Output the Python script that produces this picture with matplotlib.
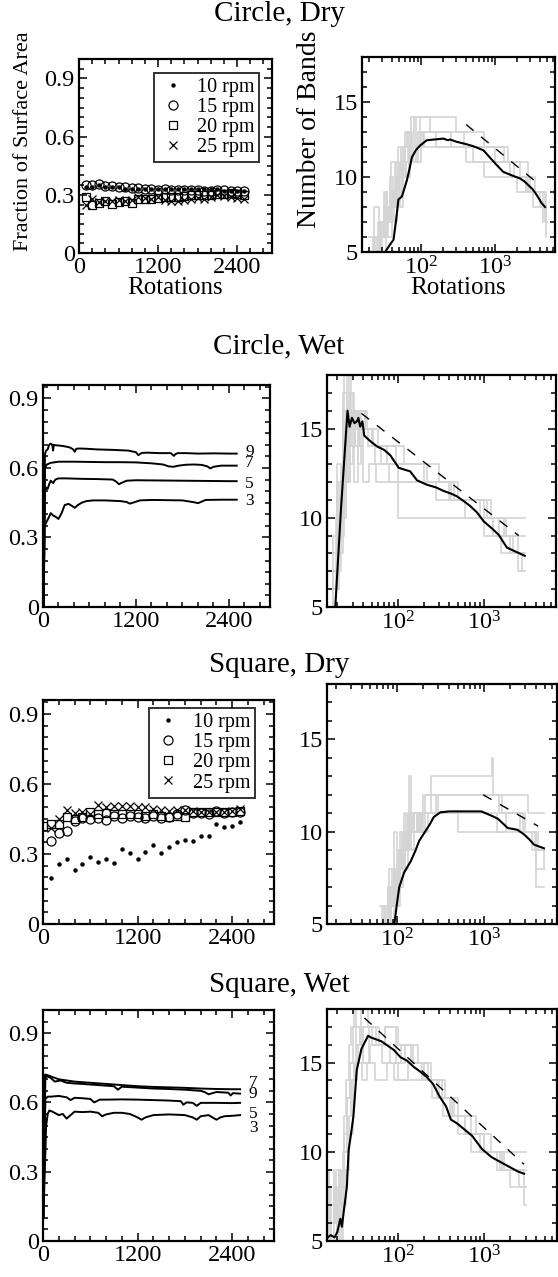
import matplotlib
matplotlib.use("Agg")
import matplotlib.pyplot as plt
from matplotlib.ticker import MultipleLocator, LogLocator, FixedLocator, FixedFormatter, NullFormatter

plt.rcParams['font.family'] = ['Liberation Serif', 'DejaVu Serif']
plt.rcParams['mathtext.fontset'] = 'custom'
plt.rcParams['mathtext.rm'] = 'Liberation Serif'

# ---------------- data ----------------
titles = ["Circle, Dry", "Circle, Wet", "Square, Dry", "Square, Wet"]
rpm_labels = ["10 rpm", "15 rpm", "20 rpm", "25 rpm"]

rot_pts = [100, 200, 300, 400, 500, 600, 700, 800, 900, 1000, 1100, 1200, 1300,
           1400, 1500, 1600, 1700, 1800, 1900, 2000, 2100, 2200, 2300, 2400, 2500]
rot_pts0 = [0] + rot_pts

# Circle, Dry : fraction of surface area
cd_10 = [0.34, 0.34, 0.35, 0.34, 0.34, 0.34, 0.33, 0.33, 0.33, 0.33, 0.33, 0.33, 0.33,
         0.33, 0.33, 0.33, 0.33, 0.33, 0.33, 0.33, 0.33, 0.32, 0.32, 0.32, 0.32]
cd_15 = [0.35, 0.35, 0.355, 0.345, 0.345, 0.34, 0.34, 0.335, 0.335, 0.33, 0.33, 0.325, 0.33,
         0.325, 0.325, 0.325, 0.325, 0.325, 0.32, 0.32, 0.325, 0.325, 0.32, 0.32, 0.32]
cd_20 = [0.29, 0.245, 0.26, 0.27, 0.255, 0.265, 0.27, 0.26, 0.28, 0.28, 0.28, 0.285, 0.29,
         0.29, 0.29, 0.295, 0.30, 0.30, 0.30, 0.30, 0.305, 0.305, 0.31, 0.305, 0.30]
cd_25 = [0.25, 0.28, 0.265, 0.27, 0.27, 0.275, 0.27, 0.275, 0.29, 0.285, 0.28, 0.29, 0.275,
         0.27, 0.27, 0.275, 0.28, 0.285, 0.28, 0.29, 0.30, 0.295, 0.29, 0.285, 0.28]

# Square, Dry : fraction of surface area
sd_10 = [0.196, 0.257, 0.277, 0.232, 0.257, 0.286, 0.267, 0.277, 0.263, 0.321, 0.303, 0.277, 0.31,
         0.339, 0.306, 0.331, 0.353, 0.36, 0.356, 0.378, 0.378, 0.428, 0.414, 0.421, 0.438]
sd_15 = [0.355, 0.39, 0.40, 0.44, 0.455, 0.45, 0.455, 0.445, 0.465, 0.455, 0.465, 0.46, 0.455,
         0.465, 0.455, 0.46, 0.47, 0.49, 0.475, 0.475, 0.47, 0.485, 0.475, 0.48, 0.48]
sd_20 = [0.42, 0.43, 0.43, 0.46, 0.45, 0.46, 0.48, 0.47, 0.475, 0.47, 0.47, 0.47, 0.47, 0.465,
         0.47, 0.465, 0.46, 0.465, 0.46, 0.48, 0.48, 0.48, 0.48, 0.48, 0.48, 0.485]
sd_25 = [0.41, 0.45, 0.49, 0.475, 0.48, 0.47, 0.51, 0.50, 0.505, 0.505, 0.505, 0.50, 0.50,
         0.495, 0.49, 0.485, 0.49, 0.49, 0.485, 0.48, 0.48, 0.48, 0.48, 0.485, 0.495]

# Circle, Wet : fraction lines (labelled 9, 7, 5, 3)
cw9_x = [8, 25, 40, 60, 80, 100, 120, 130, 140, 160, 200, 250, 300, 350, 390, 410, 430, 470, 550,
         700, 900, 1100, 1200, 1230, 1250, 1280, 1350, 1500, 1650, 1690, 1710, 1740, 1850, 2000,
         2200, 2400, 2500]
cw9_y = [0.0, 0.66, 0.675, 0.68, 0.70, 0.705, 0.70, 0.675, 0.70, 0.698, 0.697, 0.695, 0.692,
         0.688, 0.68, 0.67, 0.683, 0.684, 0.683, 0.68, 0.678, 0.675, 0.668, 0.655, 0.66, 0.665,
         0.666, 0.664, 0.664, 0.652, 0.66, 0.664, 0.664, 0.662, 0.663, 0.662, 0.662]
cw7_x = [8, 25, 50, 100, 200, 400, 600, 800, 1000, 1200, 1400, 1550, 1620, 1680, 1750, 1850,
         1950, 2050, 2120, 2160, 2200, 2300, 2400, 2500]
cw7_y = [0.0, 0.60, 0.615, 0.622, 0.627, 0.627, 0.626, 0.625, 0.625, 0.624, 0.62, 0.615, 0.607,
         0.605, 0.61, 0.614, 0.615, 0.613, 0.607, 0.598, 0.605, 0.61, 0.61, 0.61]
cw5_x = [8, 25, 45, 60, 80, 100, 130, 160, 200, 300, 500, 700, 900, 950, 980, 1010, 1080, 1200,
         1500, 1800, 2100, 2400, 2500]
cw5_y = [0.0, 0.50, 0.515, 0.51, 0.53, 0.545, 0.535, 0.55, 0.555, 0.555, 0.553, 0.552, 0.55,
         0.54, 0.53, 0.535, 0.545, 0.547, 0.546, 0.545, 0.544, 0.543, 0.543]
cw3_x = [8, 20, 50, 80, 100, 130, 160, 200, 240, 280, 330, 380, 410, 450, 500, 560, 650, 800,
         1000, 1080, 1120, 1160, 1250, 1400, 1600, 1800, 1950, 2000, 2050, 2100, 2300, 2500]
cw3_y = [0.0, 0.35, 0.37, 0.39, 0.405, 0.395, 0.39, 0.38, 0.405, 0.44, 0.445, 0.435, 0.428,
         0.44, 0.45, 0.457, 0.46, 0.46, 0.457, 0.453, 0.446, 0.45, 0.46, 0.462, 0.461, 0.46,
         0.452, 0.448, 0.455, 0.462, 0.463, 0.463]
cw_label_groups = ["9\n7", "5\n3"]
cw_label_y = [0.647, 0.494]
cw_label_ls = [0.58, 1.07]

# Square, Wet : fraction lines (labelled 7, 9, 5, 3)
sw7_x = [5, 25, 40, 80, 120, 200, 300, 400, 600, 800, 1000, 1200, 1400, 1600, 1800, 2000,
         2200, 2400, 2500]
sw7_y = [0.1, 0.72, 0.72, 0.715, 0.71, 0.70, 0.695, 0.69, 0.685, 0.68, 0.675, 0.67, 0.667,
         0.665, 0.663, 0.66, 0.658, 0.657, 0.657]
sw9_x = [5, 30, 60, 100, 150, 220, 300, 400, 500, 700, 900, 950, 1000, 1200, 1400, 1600, 1800,
         2000, 2050, 2100, 2200, 2350, 2380, 2410, 2500]
sw9_y = [0.1, 0.71, 0.712, 0.705, 0.69, 0.695, 0.685, 0.682, 0.68, 0.675, 0.67, 0.655, 0.668,
         0.664, 0.66, 0.658, 0.655, 0.65, 0.645, 0.635, 0.645, 0.642, 0.63, 0.64, 0.638]
sw5_x = [5, 30, 60, 100, 200, 300, 350, 400, 500, 600, 650, 680, 720, 800, 1000, 1200, 1400,
         1600, 1750, 1780, 1820, 1900, 1950, 2000, 2200, 2400, 2500]
sw5_y = [0.1, 0.615, 0.625, 0.625, 0.628, 0.622, 0.61, 0.62, 0.618, 0.615, 0.60, 0.605, 0.612,
         0.612, 0.613, 0.612, 0.61, 0.608, 0.605, 0.59, 0.60, 0.598, 0.585, 0.598, 0.598, 0.597,
         0.598]
sw3_x = [5, 40, 60, 80, 120, 200, 250, 300, 350, 400, 500, 600, 700, 750, 800, 900, 1000,
         1100, 1200, 1250, 1300, 1400, 1600, 1800, 1900, 1950, 2000, 2100, 2150, 2200, 2250,
         2300, 2400, 2500]
sw3_y = [0.1, 0.50, 0.55, 0.565, 0.56, 0.545, 0.55, 0.53, 0.545, 0.56, 0.558, 0.56, 0.555,
         0.54, 0.548, 0.555, 0.555, 0.55, 0.535, 0.525, 0.535, 0.545, 0.548, 0.545, 0.535,
         0.525, 0.54, 0.545, 0.535, 0.525, 0.535, 0.54, 0.542, 0.545]
sw_label_groups = ["7\n9", "5\n3"]
sw_label_y = [0.662, 0.52]
sw_label_ls = [0.58, 0.86]

# ---- Number of bands: Circle, Dry ----
cdb_mean_x = [32.6, 38, 42.3, 46, 49.3, 54.8, 60, 64.1, 70, 74.8, 85, 96.9, 119, 150, 200, 230,
              246, 300, 400, 509, 695, 850, 1050, 1290, 1700, 2178, 2500, 2820, 3200, 3655,
              4270, 4740]
cdb_mean_y = [5.0, 5.5, 5.82, 7.2, 8.5, 8.7, 9.3, 9.78, 10.6, 11.3, 11.8, 12.1, 12.45, 12.5,
              12.56, 12.45, 12.5, 12.35, 12.2, 12.05, 11.78, 11.3, 10.8, 10.34, 10.1, 9.9, 9.7,
              9.45, 9.2, 8.8, 8.25, 8.0]
cdb_dash_x = [405, 3730]
cdb_dash_y = [13.5, 9.6]
cdb_g1_x = [18, 22, 25, 28, 31, 34, 37, 40, 44, 48, 52, 58, 65, 72, 80, 120, 300, 700, 1300, 2200, 3500, 4700, 5000]
cdb_g1_y = [5, 6, 5, 7, 6, 8, 7, 9, 8, 10, 11, 12, 13, 12, 14, 14, 13, 12, 11, 10, 9, 7, 7]
cdb_g2_x = [20, 24, 27, 30, 33, 36, 40, 43, 47, 52, 57, 63, 70, 85, 100, 180, 380, 800, 1500, 2800, 4200, 4900]
cdb_g2_y = [6, 5, 7, 5, 8, 6, 9, 7, 10, 8, 11, 10, 12, 11, 13, 13, 12, 12, 11, 9, 9, 6]
cdb_g3_x = [22, 26, 29, 32, 35, 38, 42, 46, 50, 55, 60, 68, 75, 95, 130, 250, 600, 1000, 1800, 3000, 4000, 4700]
cdb_g3_y = [5, 7, 6, 9, 7, 10, 8, 11, 9, 12, 11, 13, 12, 14, 13, 12, 12, 11, 10, 9, 8, 8]
cdb_g4_x = [25, 28, 31, 34, 38, 42, 46, 50, 56, 62, 68, 78, 90, 110, 170, 500, 900, 1600, 2600, 3700, 4500]
cdb_g4_y = [5, 6, 8, 7, 9, 8, 10, 9, 11, 10, 12, 11, 13, 12, 12, 11, 11, 10, 9, 9, 7]
cdb_g5_x = [20, 23, 27, 31, 35, 39, 44, 49, 54, 60, 66, 74, 85, 105, 160, 400, 700, 1100, 2000, 3300, 4300, 4900]
cdb_g5_y = [5, 8, 6, 9, 7, 11, 9, 12, 10, 13, 11, 14, 12, 13, 12, 11, 10, 10, 9, 8, 8, 7]

# ---- Number of bands: Circle, Wet ----
cwb_mean_x = [18.9, 22, 26.2, 27.7, 29.5, 31.5, 33.7, 35, 36.8, 39, 41, 48, 57.6, 70, 82.3, 103,
              120, 140, 168, 219, 280, 343, 420, 490, 600, 700, 836, 1000, 1250, 1490, 1860,
              2240, 3000]
cwb_mean_y = [5.0, 10.5, 16.0, 15.1, 15.6, 15.3, 15.4, 15.6, 15.1, 15.4, 14.6, 14.3, 14.0, 13.8,
              13.5, 12.8, 12.7, 12.6, 12.1, 11.85, 11.7, 11.5, 11.35, 11.2, 10.9, 10.65, 10.3,
              9.8, 9.4, 9.05, 8.33, 8.15, 7.87]
cwb_dash_x = [38, 2550]
cwb_dash_y = [15.85, 9.0]
cwb_g1_x = [16, 18, 20, 22, 24, 26, 28, 30, 33, 36, 40, 50, 65, 100, 3000]
cwb_g1_y = [5, 9, 7, 12, 18, 14, 17, 15, 16, 14, 15, 14, 13, 10, 10]
cwb_g2_x = [17, 19, 21, 23, 25, 27, 29, 32, 35, 38, 45, 55, 80, 130, 250, 450, 700, 1100, 1700, 2200, 3000]
cwb_g2_y = [6, 10, 8, 16, 12, 18, 14, 16, 13, 15, 14, 13, 12, 12, 12, 11, 11, 10, 9, 8, 8]
cwb_g3_x = [15, 18, 20, 22, 24, 26, 28, 31, 34, 38, 44, 52, 70, 95, 150, 300, 500, 800, 1200, 1800, 2500, 3000]
cwb_g3_y = [5, 7, 11, 9, 15, 12, 17, 16, 15, 16, 15, 14, 14, 13, 13, 12, 11, 11, 10, 9, 7, 7]
cwb_g4_x = [16, 19, 21, 23, 25, 27, 30, 33, 37, 42, 50, 75, 110, 200, 400, 650, 1000, 1500, 2200, 3000]
cwb_g4_y = [7, 6, 12, 10, 16, 13, 16, 15, 16, 15, 14, 13, 13, 12, 11, 11, 10, 9, 9, 9]
cwb_g5_x = [18, 20, 22, 24, 26, 28, 31, 35, 40, 46, 56, 90, 140, 280, 500, 900, 1300, 2000, 2800, 3000]
cwb_g5_y = [6, 13, 10, 15, 12, 14, 12, 14, 12, 13, 12, 12, 12, 11, 11, 10, 9, 8, 7, 7]
cwb_g6_x = [17, 20, 23, 26, 29, 32, 36, 42, 60, 120, 220, 420, 600, 1000, 1600, 3000]
cwb_g6_y = [8, 12, 17, 15, 16, 14, 16, 15, 14, 13, 12, 11, 10, 9, 8, 8]

# ---- Number of bands: Square, Dry ----
sdb_mean_x = [94, 100, 107, 122, 145, 165, 181, 215, 240, 267, 318, 400, 610, 937, 1220, 1450,
              1880, 2440, 2900, 3300, 3770, 4900]
sdb_mean_y = [5.0, 6.0, 7.0, 7.8, 8.4, 9.0, 9.5, 10.05, 10.4, 10.8, 11.05, 11.1, 11.1, 11.1,
              10.87, 10.7, 10.2, 10.1, 9.85, 9.6, 9.3, 9.1]
sdb_dash_x = [980, 4200]
sdb_dash_y = [12.0, 10.3]
sdb_g1_x = [60, 67, 74, 80, 86, 92, 98, 104, 110, 118, 126, 135, 145, 160, 175, 195, 250, 1250, 1270, 3200, 4900]
sdb_g1_y = [5, 6, 5, 7, 5, 8, 6, 9, 7, 10, 8, 11, 10, 11, 10, 11, 13, 14, 12, 11, 11]
sdb_g2_x = [70, 76, 82, 88, 94, 100, 106, 112, 120, 128, 137, 147, 160, 180, 220, 300, 900, 1600, 2600, 4000, 4900]
sdb_g2_y = [6, 5, 8, 6, 10, 7, 9, 8, 11, 9, 13, 9, 10, 11, 11, 12, 12, 11, 10, 8, 8]
sdb_g3_x = [75, 82, 88, 95, 102, 110, 118, 126, 135, 145, 158, 172, 190, 230, 350, 700, 1400, 2200, 3300, 4200, 4900]
sdb_g3_y = [5, 7, 6, 8, 7, 9, 8, 10, 9, 11, 10, 11, 10, 11, 11, 11, 10, 10, 10, 9, 9]
sdb_g4_x = [80, 87, 94, 101, 108, 116, 124, 133, 143, 155, 170, 190, 210, 280, 500, 1000, 1800, 2800, 3600, 4000, 4900]
sdb_g4_y = [5, 6, 7, 6, 9, 8, 10, 9, 11, 10, 11, 10, 12, 11, 10, 10, 11, 10, 9, 7, 7]
sdb_g5_x = [65, 72, 79, 86, 93, 100, 108, 116, 124, 134, 145, 160, 180, 200, 260, 400, 800, 1500, 2300, 3000, 3900, 4900]
sdb_g5_y = [6, 5, 7, 6, 8, 7, 10, 8, 9, 11, 10, 11, 10, 12, 12, 12, 12, 11, 11, 10, 9, 8]

# ---- Number of bands: Square, Wet ----
swb_mean_x = [15.5, 16.7, 18.5, 19.9, 21.6, 22.5, 24, 25.7, 26.9, 28.5, 30.6, 33.4, 37.9, 45.2,
              49, 56, 63.8, 75.9, 90, 107, 128, 152, 180, 214, 255, 303, 360, 410, 480, 555, 720,
              940, 1210, 1710, 2430, 2870]
swb_mean_y = [5.2, 5.33, 5.2, 5.5, 6.25, 5.8, 6.9, 8.05, 10.06, 10.9, 12.0, 14.57, 15.77, 16.5,
              16.4, 16.3, 16.2, 15.95, 15.7, 15.3, 15.1, 14.76, 14.5, 14.2, 13.8, 13.1, 12.55,
              11.8, 11.6, 11.35, 10.9, 10.15, 9.7, 9.3, 8.9, 8.77]
swb_dash_x = [41, 2870]
swb_dash_y = [17.5, 9.3]
swb_g1_x = [15, 17, 18, 19, 20, 21, 22, 23, 24, 25, 27, 29, 31, 33, 36, 40, 50, 70, 100, 150, 220, 300, 450, 700, 1000, 1500, 2000, 3000]
swb_g1_y = [7, 5, 8, 6, 7, 9, 8, 10, 12, 14, 16, 17, 18, 17, 16, 17, 16, 17, 16, 15, 14, 13, 12, 11, 10, 9, 8, 8]
swb_g2_x = [15, 16, 18, 20, 22, 24, 26, 28, 30, 33, 37, 45, 60, 80, 110, 140, 190, 260, 350, 500, 800, 1200, 2000, 3000]
swb_g2_y = [5, 9, 6, 8, 7, 11, 13, 15, 17, 16, 18, 17, 16, 15, 16, 15, 14, 14, 13, 12, 11, 10, 10, 10]
swb_g3_x = [16, 17, 19, 21, 23, 25, 27, 29, 32, 35, 40, 48, 65, 90, 130, 200, 280, 400, 600, 900, 1400, 2200, 2900, 3000]
swb_g3_y = [8, 6, 7, 5, 8, 9, 12, 14, 15, 16, 15, 16, 15, 14, 15, 14, 13, 12, 11, 10, 9, 9, 7, 7]
swb_g4_x = [15, 18, 20, 22, 24, 26, 28, 31, 34, 38, 44, 55, 75, 100, 160, 250, 330, 500, 700, 1100, 1700, 2500, 3000]
swb_g4_y = [6, 7, 5, 9, 10, 13, 15, 14, 15, 14, 15, 14, 15, 14, 14, 13, 12, 11, 10, 10, 9, 8, 8]
swb_g5_x = [17, 19, 21, 23, 25, 27, 30, 33, 36, 40, 46, 56, 70, 95, 120, 170, 240, 320, 420, 600, 1000, 1600, 3000]
swb_g5_y = [7, 9, 6, 7, 9, 11, 14, 16, 17, 15, 17, 16, 17, 15, 16, 15, 14, 13, 12, 11, 10, 9, 9]

# ---------------- figure ----------------
W, H = 558, 1277
fig = plt.figure(figsize=(W / 100, H / 100), dpi=100)

def rect(x0, y0, x1, y1):
    return [x0 / W, 1 - y1 / H, (x1 - x0) / W, (y1 - y0) / H]

TICK_FS = 17.5
SPINE_W = 1.6

def style_axes(ax):
    for s in ax.spines.values():
        s.set_linewidth(SPINE_W)
    ax.tick_params(which='both', direction='in', top=True, right=True, width=1.1,
                   labelsize=TICK_FS, pad=3)
    ax.tick_params(which='major', length=6)
    ax.tick_params(which='minor', length=3.5)

def frac_axes(ax, ytop=1.0):
    style_axes(ax)
    ax.set_xlim(0, 2930)
    ax.set_ylim(0, ytop)
    ax.xaxis.set_major_locator(FixedLocator([0, 1200, 2400]))
    ax.xaxis.set_minor_locator(MultipleLocator(200))
    ax.yaxis.set_major_locator(FixedLocator([0, 0.3, 0.6, 0.9]))
    ax.yaxis.set_major_formatter(FixedFormatter(["0", "0.3", "0.6", "0.9"]))
    ax.yaxis.set_minor_locator(MultipleLocator(0.05))

def band_axes(ax, xlo, xhi):
    style_axes(ax)
    ax.set_xscale('log')
    ax.set_xlim(xlo, xhi)
    ax.set_ylim(5, 18)
    ax.xaxis.set_major_locator(FixedLocator([100, 1000]))
    ax.xaxis.set_major_formatter(FixedFormatter([r'$\mathregular{10^{2}}$', r'$\mathregular{10^{3}}$']))
    ax.xaxis.set_minor_locator(LogLocator(base=10, subs=(2, 3, 4, 5, 6, 7, 8, 9)))
    ax.xaxis.set_minor_formatter(NullFormatter())
    ax.yaxis.set_major_locator(MultipleLocator(5))
    ax.yaxis.set_minor_locator(MultipleLocator(1))

def scatter_panel(ax, x10, y10, x15, y15, x20, y20, x25, y25, anchor, ytop=1.0):
    frac_axes(ax, ytop)
    h1, = ax.plot(x10, y10, ls='none', marker='o', ms=2.2, color='black')
    h2, = ax.plot(x15, y15, ls='none', marker='o', ms=6.5, mfc='none', mec='black', mew=0.9)
    h3, = ax.plot(x20, y20, ls='none', marker='s', ms=6, mfc='none', mec='black', mew=0.9)
    h4, = ax.plot(x25, y25, ls='none', marker='x', ms=5.5, color='black', mew=0.9)
    leg = ax.legend([h1, h2, h3, h4], rpm_labels, loc='upper right', bbox_to_anchor=anchor,
                    fontsize=14.5, frameon=True, fancybox=False, edgecolor='black',
                    handlelength=1.4, handletextpad=0.5, borderpad=0.25, labelspacing=0.05,
                    borderaxespad=0)
    leg.get_frame().set_linewidth(1.4)

def gray_steps(ax, runs):
    for gx, gy in runs:
        ax.plot(gx, gy, drawstyle='steps-post', color='#d4d4d4', lw=1.2, zorder=1)

def band_panel(ax, runs, mx, my, dx, dy, xlo, xhi):
    band_axes(ax, xlo, xhi)
    gray_steps(ax, runs)
    ax.plot(mx, my, color='black', lw=1.5, zorder=3)
    ax.plot(dx, dy, color='black', lw=1.0, dashes=(7, 7), zorder=3)

TITLE_FS = 21
title_y = [14, 346, 665, 985]
for t, ty in zip(titles, title_y):
    fig.text(0.5, 1 - ty / H, t, ha='center', va='center', fontsize=TITLE_FS)

# Row 1
ax1 = fig.add_axes(rect(79, 59, 272, 253))
scatter_panel(ax1, rot_pts, cd_10, rot_pts, cd_15, rot_pts, cd_20, rot_pts, cd_25, (0.935, 0.93))
ax1.set_ylabel("Fraction of Surface Area", fontsize=16)
ax1.yaxis.set_label_coords(-0.238, 0.577)
ax1.set_xlabel("Rotations", fontsize=18)
ax1.xaxis.set_label_coords(0.5, -0.124)

ax2 = fig.add_axes(rect(362, 57, 555, 252))
band_panel(ax2, [(cdb_g1_x, cdb_g1_y), (cdb_g2_x, cdb_g2_y), (cdb_g3_x, cdb_g3_y),
                 (cdb_g4_x, cdb_g4_y), (cdb_g5_x, cdb_g5_y)],
           cdb_mean_x, cdb_mean_y, cdb_dash_x, cdb_dash_y, 10 ** 1.2, 10 ** 3.81)
ax2.set_ylabel("Number of Bands", fontsize=20)
ax2.yaxis.set_label_coords(-0.207, 0.63)
ax2.set_xlabel("Rotations", fontsize=18)
ax2.xaxis.set_label_coords(0.5, -0.128)

# Row 2
ax3 = fig.add_axes(rect(43, 385, 270, 607))
frac_axes(ax3, 0.958)
for lx, ly in [(cw9_x, cw9_y), (cw7_x, cw7_y), (cw5_x, cw5_y), (cw3_x, cw3_y)]:
    ax3.plot(lx, ly, color='black', lw=1.4)
for lab, yy, ls in zip(cw_label_groups, cw_label_y, cw_label_ls):
    ax3.text(2610, yy, lab, fontsize=12.5, va='center', ha='left', linespacing=ls)

ax4 = fig.add_axes(rect(327, 375, 556, 607))
band_panel(ax4, [(cwb_g1_x, cwb_g1_y), (cwb_g2_x, cwb_g2_y), (cwb_g3_x, cwb_g3_y),
                 (cwb_g4_x, cwb_g4_y), (cwb_g5_x, cwb_g5_y), (cwb_g6_x, cwb_g6_y)],
           cwb_mean_x, cwb_mean_y, cwb_dash_x, cwb_dash_y, 10 ** 1.18, 10 ** 3.84)

# Row 3
ax5 = fig.add_axes(rect(43, 700, 274, 924))
scatter_panel(ax5, rot_pts, sd_10, rot_pts, sd_15, rot_pts0, sd_20, rot_pts, sd_25,
              (0.918, 0.964), ytop=0.96)

ax6 = fig.add_axes(rect(327, 684, 557, 924))
band_panel(ax6, [(sdb_g1_x, sdb_g1_y), (sdb_g2_x, sdb_g2_y), (sdb_g3_x, sdb_g3_y),
                 (sdb_g4_x, sdb_g4_y), (sdb_g5_x, sdb_g5_y)],
           sdb_mean_x, sdb_mean_y, sdb_dash_x, sdb_dash_y, 10 ** 1.2, 10 ** 3.84)

# Row 4
ax7 = fig.add_axes(rect(43, 1010, 274, 1241))
frac_axes(ax7)
for lx, ly in [(sw7_x, sw7_y), (sw9_x, sw9_y), (sw5_x, sw5_y), (sw3_x, sw3_y)]:
    ax7.plot(lx, ly, color='black', lw=1.4)
for lab, yy, ls in zip(sw_label_groups, sw_label_y, sw_label_ls):
    ax7.text(2610, yy, lab, fontsize=12.5, va='center', ha='left', linespacing=ls)

ax8 = fig.add_axes(rect(327, 1009, 557, 1241))
band_panel(ax8, [(swb_g1_x, swb_g1_y), (swb_g2_x, swb_g2_y), (swb_g3_x, swb_g3_y),
                 (swb_g4_x, swb_g4_y), (swb_g5_x, swb_g5_y)],
           swb_mean_x, swb_mean_y, swb_dash_x, swb_dash_y, 10 ** 1.18, 10 ** 3.84)

fig.savefig("out.png", dpi=100)
